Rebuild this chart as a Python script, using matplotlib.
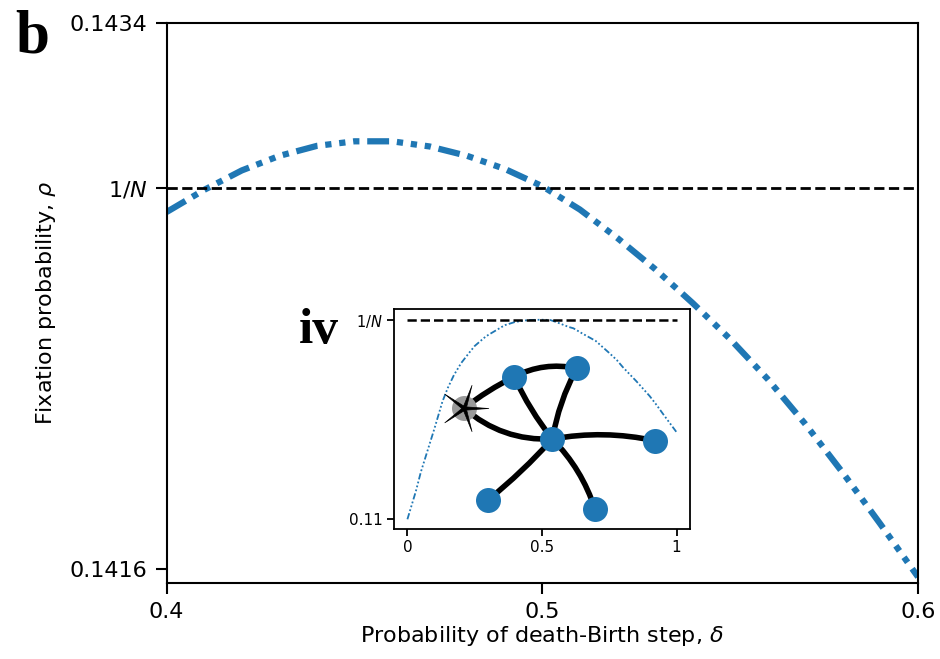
import numpy as np
import matplotlib
matplotlib.use("Agg")
import matplotlib.pyplot as plt
from matplotlib.patches import FancyArrowPatch
from matplotlib.path import Path

N = 7
blue = "#1f77b4"

# main curve: fixation probability vs delta
delta = [0.40, 0.41, 0.42, 0.43, 0.44, 0.45, 0.46, 0.47, 0.48, 0.49, 0.50,
         0.51, 0.52, 0.53, 0.54, 0.55, 0.56, 0.57, 0.58, 0.59, 0.60]
rho = [0.142777, 0.142850, 0.142914, 0.142962, 0.142995, 0.143010, 0.143010,
       0.142993, 0.142962, 0.142919, 0.142862, 0.142785, 0.142691, 0.142589,
       0.142477, 0.142358, 0.142226, 0.142078, 0.141917, 0.141748, 0.141574]

# inset: full range of delta
inset_delta = [0.0, 0.025, 0.031, 0.05, 0.062, 0.093, 0.1, 0.13, 0.15, 0.173,
               0.2, 0.228, 0.25, 0.29, 0.3, 0.35, 0.364, 0.4, 0.45, 0.5, 0.53,
               0.55, 0.6, 0.617, 0.65, 0.7, 0.75, 0.778, 0.8, 0.85, 0.9, 0.926,
               0.95, 1.0]
inset_rho = [0.1100, 0.11368, 0.11455, 0.11780, 0.11950, 0.12390, 0.12489,
             0.12939, 0.13165, 0.13379, 0.13577, 0.13737, 0.13857, 0.14010,
             0.14038, 0.14170, 0.14203, 0.14253, 0.14286, 0.14290, 0.14286,
             0.14257, 0.14170, 0.14149, 0.14063, 0.13940, 0.13742, 0.13626,
             0.13511, 0.13280, 0.13033, 0.12884, 0.12736, 0.12437]

# graph drawn inside the inset (axes fractions)
nodes = {"s": (0.237, 0.549), "a": (0.406, 0.692), "b": (0.617, 0.730),
         "c": (0.535, 0.409), "d": (0.882, 0.401), "e": (0.318, 0.132),
         "f": (0.679, 0.090)}
edges = [("s", "a", -0.05), ("s", "c", 0.2), ("a", "b", -0.18), ("a", "c", 0.06),
         ("b", "c", 0.08), ("c", "d", -0.1), ("c", "e", -0.04), ("c", "f", -0.12)]

dashdotdotdot = (0, (3.5, 1.25, 1, 1.25, 1, 1.25, 1, 1.25))

fig = plt.figure(figsize=(9.4, 6.59), dpi=100)
ax = fig.add_axes([0.1773, 0.1158, 0.7993, 0.8493])
ax.plot(delta, rho, color=blue, lw=4.5, ls=dashdotdotdot, dash_capstyle="butt")
ax.axhline(1 / N, color="k", ls="--", lw=2)
ax.set_xlim(0.4, 0.6)
ax.set_ylim(0.141555, 0.1434)
ax.set_xticks([0.4, 0.5, 0.6], ["0.4", "0.5", "0.6"])
ax.set_yticks([0.1416, 1 / N, 0.1434], ["0.1416", r"$1/N$", "0.1434"])
ax.tick_params(length=8, width=1.5, labelsize=16, pad=6)
for sp in ax.spines.values():
    sp.set_linewidth(1.5)
ax.set_xlabel(r"Probability of death-Birth step, $\delta$", fontsize=16, labelpad=1)
ax.set_ylabel(r"Fixation probability, $\rho$", fontsize=16, labelpad=8)

# inset
axi = fig.add_axes([0.4191, 0.1973, 0.3149, 0.3338])
axi.plot(inset_delta, inset_rho, color=blue, lw=1.3, ls=dashdotdotdot)
axi.hlines(1 / N, 0, 1, color="k", ls="--", lw=1.8)
axi.set_xlim(-0.05, 1.05)
axi.set_ylim(0.1084, 0.14467)
axi.set_xticks([0, 0.5, 1], ["0", "0.5", "1"])
axi.set_yticks([0.11, 1 / N], ["0.11", r"$1/N$"])
axi.tick_params(length=5, width=1.3, labelsize=11, pad=3)
axi.get_yticklabels()[1].set_fontsize(10.5)
for sp in axi.spines.values():
    sp.set_linewidth(1.3)

for u, v, rad in edges:
    e = FancyArrowPatch(nodes[u], nodes[v], transform=axi.transAxes,
                        connectionstyle=f"arc3,rad={rad}", arrowstyle="-",
                        lw=4, color="k", shrinkA=0, shrinkB=0, zorder=3)
    axi.add_patch(e)

for k, (x, y) in nodes.items():
    c = "#9a9a9a" if k == "s" else blue
    axi.plot(x, y, "o", ms=18, color=c, mec="none", transform=axi.transAxes, zorder=4)

# thin five-pointed star on the mutant node
ang = np.deg2rad(np.arange(10) * 36)
r = np.where(np.arange(10) % 2 == 0, 1.0, 0.11)
verts = np.column_stack([r * np.cos(ang), r * np.sin(ang)])
verts = np.vstack([verts, verts[:1]])
star = Path(verts, closed=True)
axi.plot(*nodes["s"], marker=star, ms=35, color="k", mec="k", mew=0.5,
         transform=axi.transAxes, zorder=5)

fig.text(0.016, 0.9196, "b", fontfamily="Liberation Serif", fontweight="bold",
         fontsize=44, va="baseline")
fig.text(0.318, 0.4795, "iv", fontfamily="Liberation Serif", fontweight="bold",
         fontsize=37, va="baseline")

fig.savefig("out.png", dpi=100)
